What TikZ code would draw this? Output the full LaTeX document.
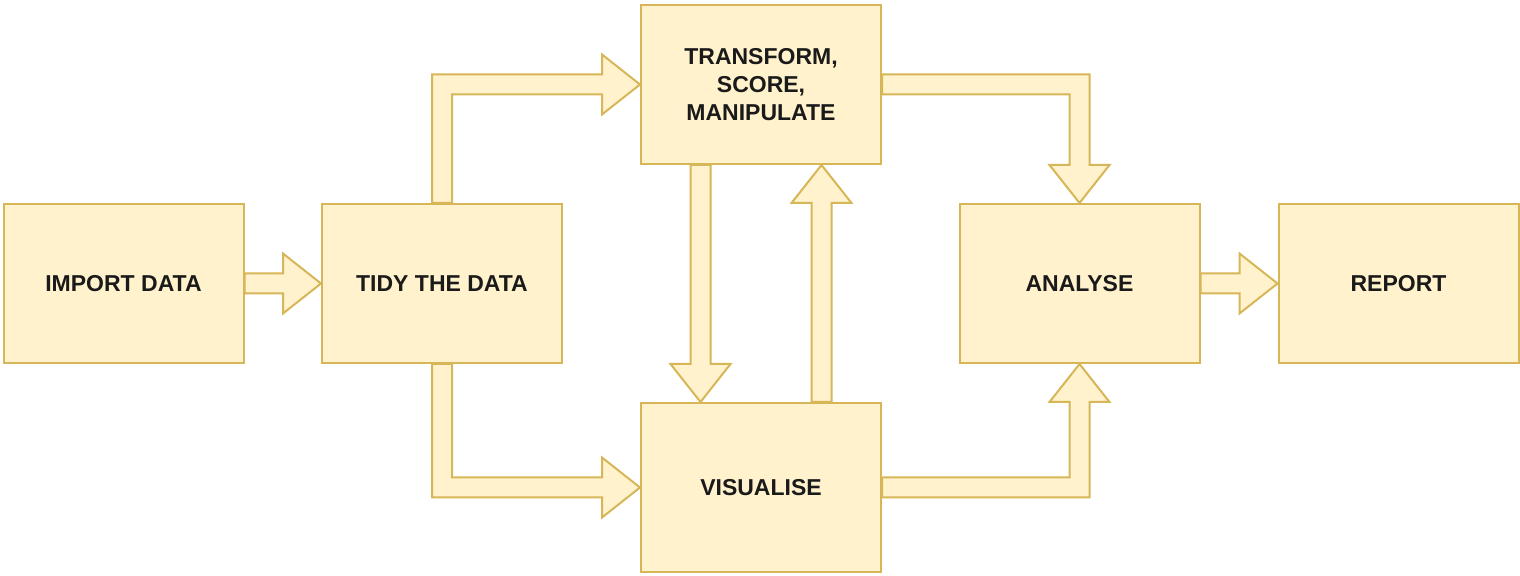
\documentclass[tikz,border=0pt]{standalone}
\usepackage{fontspec}
\setmainfont{Liberation Sans}
\usetikzlibrary{calc,backgrounds}
\definecolor{boxfill}{HTML}{FFF2CC}
\definecolor{boxline}{HTML}{D6B656}
\definecolor{txt}{HTML}{1A1A1A}
\tikzset{
  stage/.style={draw=boxline, fill=boxfill, line width=1pt, minimum width=120pt,
    minimum height=79.5pt, inner sep=0pt, align=center,
    font=\fontsize{11.5}{13.8}\selectfont\bfseries, text=txt},
  flex/.style={draw=boxline, fill=boxfill, line width=1pt, line join=miter}
}
\begin{document}
\begin{tikzpicture}[x=0.5pt,y=-0.5pt]
\useasboundingbox (0,0) rectangle (1520,576);
\node[stage] (imp) at (123.5,283.5) {IMPORT DATA};
\node[stage] (tidy) at (442,283.5) {TIDY THE DATA};
\node[stage] (trans) at (761,84.5) {TRANSFORM,\\SCORE,\\MANIPULATE};
\node[stage, minimum height=84.5pt] (vis) at (761,487.5) {VISUALISE};
\node[stage] (ana) at (1079.5,283.5) {ANALYSE};
\node[stage] (rep) at (1398.5,283.5) {REPORT};

\coordinate (dS) at ($(trans.south west)!0.25!(trans.south east)$);
\coordinate (dT) at (dS |- vis.north);
\coordinate (uS) at ($(vis.north west)!0.75!(vis.north east)$);
\coordinate (uT) at (uS |- trans.south);
\coordinate (c1) at (tidy.north |- trans.west);
\coordinate (c2) at (tidy.south |- vis.west);
\coordinate (c3) at (ana.north |- trans.east);
\coordinate (c4) at (ana.south |- vis.east);

\begin{scope}[on background layer]
% import -> tidy
\draw[flex] ($(imp.east)+(0,-10)$) -- ($(tidy.west)+(-38,-10)$) -- ($(tidy.west)+(-38,-30)$)
  -- (tidy.west) -- ($(tidy.west)+(-38,30)$) -- ($(tidy.west)+(-38,10)$) -- ($(imp.east)+(0,10)$) -- cycle;
% analyse -> report
\draw[flex] ($(ana.east)+(0,-10)$) -- ($(rep.west)+(-38,-10)$) -- ($(rep.west)+(-38,-30)$)
  -- (rep.west) -- ($(rep.west)+(-38,30)$) -- ($(rep.west)+(-38,10)$) -- ($(ana.east)+(0,10)$) -- cycle;
% tidy -> transform
\draw[flex] ($(tidy.north)+(-10,0)$) -- ($(c1)+(-10,-10)$) -- ($(trans.west)+(-38,-10)$)
  -- ($(trans.west)+(-38,-30)$) -- (trans.west) -- ($(trans.west)+(-38,30)$)
  -- ($(trans.west)+(-38,10)$) -- ($(c1)+(10,10)$) -- ($(tidy.north)+(10,0)$) -- cycle;
% tidy -> visualise
\draw[flex] ($(tidy.south)+(-10,0)$) -- ($(c2)+(-10,10)$) -- ($(vis.west)+(-38,10)$)
  -- ($(vis.west)+(-38,30)$) -- (vis.west) -- ($(vis.west)+(-38,-30)$)
  -- ($(vis.west)+(-38,-10)$) -- ($(c2)+(10,-10)$) -- ($(tidy.south)+(10,0)$) -- cycle;
% transform -> visualise
\draw[flex] ($(dS)+(-10,0)$) -- ($(dT)+(-10,-38)$) -- ($(dT)+(-30,-38)$) -- (dT)
  -- ($(dT)+(30,-38)$) -- ($(dT)+(10,-38)$) -- ($(dS)+(10,0)$) -- cycle;
% visualise -> transform
\draw[flex] ($(uS)+(-10,0)$) -- ($(uT)+(-10,38)$) -- ($(uT)+(-30,38)$) -- (uT)
  -- ($(uT)+(30,38)$) -- ($(uT)+(10,38)$) -- ($(uS)+(10,0)$) -- cycle;
% transform -> analyse
\draw[flex] ($(trans.east)+(0,-10)$) -- ($(c3)+(10,-10)$) -- ($(ana.north)+(10,-38)$)
  -- ($(ana.north)+(30,-38)$) -- (ana.north) -- ($(ana.north)+(-30,-38)$)
  -- ($(ana.north)+(-10,-38)$) -- ($(c3)+(-10,10)$) -- ($(trans.east)+(0,10)$) -- cycle;
% visualise -> analyse
\draw[flex] ($(vis.east)+(0,10)$) -- ($(c4)+(10,10)$) -- ($(ana.south)+(10,38)$)
  -- ($(ana.south)+(30,38)$) -- (ana.south) -- ($(ana.south)+(-30,38)$)
  -- ($(ana.south)+(-10,38)$) -- ($(c4)+(-10,-10)$) -- ($(vis.east)+(0,-10)$) -- cycle;
\end{scope}
\end{tikzpicture}
\end{document}
